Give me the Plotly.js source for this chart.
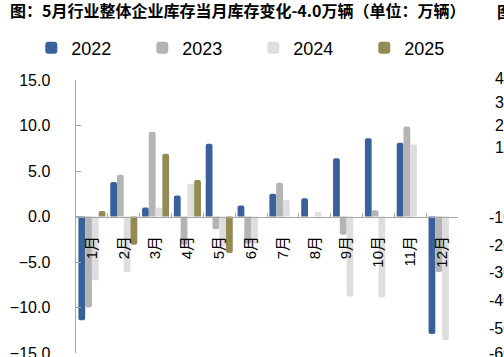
<!DOCTYPE html>
<html>
<head>
<meta charset="utf-8">
<script src="https://cdn.plot.ly/plotly-3.0.1.min.js"></script>
<style>html,body{margin:0;padding:0;background:#fff;}#chart{width:504px;height:357px;}</style>
</head>
<body>
<div id="chart"></div>
<script>
const months = ['1月','2月','3月','4月','5月','6月','7月','8月','9月','10月','11月','12月'];
const seriesNames = ['2022','2023','2024','2025'];
const v2022 = [-11.4, 3.8, 1.0, 2.3, 8.0, 1.2, 2.5, 2.0, 6.4, 8.6, 8.1, -12.9];
const v2023 = [-10.0, 4.6, 9.3, -3.1, -1.4, -3.0, 3.7, 0.0, -2.0, 0.7, 9.9, -6.1];
const v2024 = [-7.0, -6.1, 1.0, 3.6, -3.3, -3.0, 1.8, 0.5, -8.8, -8.9, 7.9, -13.6];
const v2025 = [0.6, -3.1, 6.9, 4.0, -4.0];
const titleText = '图：5月行业整体企业库存当月库存变化-4.0万辆（单位：万辆）';
const nextTitle = '图';
const nextTicks = ['40.0','30.0','20.0','10.0','-10.0','-20.0','-30.0','-40.0','-50.0','-60.0'];

const colors = ['#38609A', '#B4B4B4', '#DEDEDE', '#948A54'];
const values = [v2022, v2023, v2024, v2025];
const FONT = 'Liberation Sans, Arial, Noto Sans CJK SC, sans-serif';

const traces = seriesNames.map((name, i) => ({
  type: 'bar',
  name: name,
  x: months.slice(0, values[i].length),
  y: values[i],
  marker: {color: colors[i], cornerradius: 2, line: {width: 0}},
  hoverinfo: 'x+y+name'
}));

// positions of the partly visible neighbouring chart's tick labels (pixels)
const nextTickY = [78, 102, 125, 147, 217, 245, 272, 300, 328, 353];
const plotTop = 80, plotBottom = 353, plotLeft = 76, plotRight = 458;
const ph = plotBottom - plotTop, pw = plotRight - plotLeft;

const annotations = nextTicks.map((t, i) => ({
  text: t, xref: 'paper', yref: 'paper',
  x: ((t.startsWith('-') ? 488 : 494) - plotLeft) / pw, y: (plotBottom - nextTickY[i]) / ph,
  xanchor: 'left', yanchor: 'middle', showarrow: false, borderpad: 0,
  font: {family: FONT, size: 16, color: '#000'}
}));
annotations.push({
  text: nextTitle, xref: 'paper', yref: 'paper',
  x: (496 - plotLeft) / pw, y: (plotBottom - 11) / ph,
  xanchor: 'left', yanchor: 'middle', showarrow: false, borderpad: 0,
  font: {family: 'Noto Sans CJK SC, sans-serif', size: 16, color: '#000', weight: 'bold'}
});

const layout = {
  width: 504, height: 357,
  margin: {l: plotLeft, r: 504 - plotRight, t: plotTop, b: 357 - plotBottom, pad: 0},
  paper_bgcolor: '#fff', plot_bgcolor: '#fff',
  title: {
    text: titleText, x: 10 / 504, xanchor: 'left', xref: 'container',
    y: 1 - 11 / 357, yanchor: 'middle', yref: 'container',
    font: {family: 'Noto Sans CJK SC, sans-serif', size: 16, color: '#000', weight: 'bold'}
  },
  showlegend: true,
  legend: {
    orientation: 'h', x: -0.117, xanchor: 'left', y: (plotBottom - 48) / ph, yanchor: 'middle',
    entrywidth: 66, entrywidthmode: 'pixels', traceorder: 'normal',
    font: {family: FONT, size: 18, color: '#000'}, bgcolor: 'rgba(0,0,0,0)'
  },
  barmode: 'group', bargap: 0.15, bargroupgap: 0,
  xaxis: {
    type: 'category', categoryorder: 'array', categoryarray: months,
    anchor: 'free', position: 0.5,
    showline: true, linecolor: '#A6A6A6', linewidth: 1.5,
    ticks: 'inside', tickson: 'boundaries', ticklen: 4, tickcolor: '#A6A6A6', tickwidth: 1,
    tickangle: -90, ticklabelstandoff: 12,
    tickfont: {family: FONT, size: 15, color: '#000'},
    showgrid: false, zeroline: false, fixedrange: true
  },
  yaxis: {
    range: [-15, 15], dtick: 5, tick0: 0, tickformat: '.1f',
    showline: true, linecolor: '#A6A6A6', linewidth: 1.5,
    ticks: 'inside', ticklen: 5, tickcolor: '#A6A6A6',
    tickfont: {family: FONT, size: 16, color: '#000'},
    showgrid: false, zeroline: false, fixedrange: true,
    ticklabelstandoff: 21, ticklabeloverflow: 'allow'
  },
  annotations: annotations
};

Plotly.newPlot('chart', traces, layout, {displayModeBar: false, staticPlot: true});
</script>
</body>
</html>
